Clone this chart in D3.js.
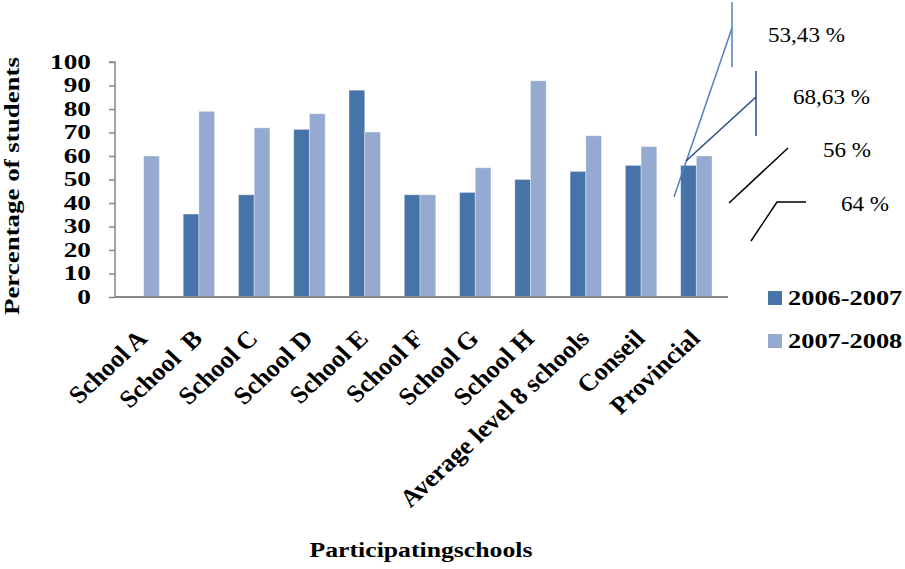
<!DOCTYPE html>
<html>
<head>
<meta charset="utf-8">
<script src="https://cdn.jsdelivr.net/npm/d3@7"></script>
<style>
  html, body { margin: 0; padding: 0; background: #fff; }
  svg { display: block; }
  text { font-family: "Liberation Serif", "Times New Roman", serif; fill: #000; }
</style>
</head>
<body>
<svg id="chart" width="905" height="569"></svg>
<script>
// ---- data ----
const categories = ["School A", "School  B", "School C", "School D", "School E", "School F",
                    "School G", "School H", "Average level 8 schools", "Conseil", "Provincial"];
const seriesNames = ["2006-2007", "2007-2008"];
const values2006 = [null, 35.3, 43.5, 71.3, 88, 43.5, 44.5, 50, 53.43, 56, 56];
const values2007 = [60, 79, 72, 78, 70.2, 43.5, 55, 92, 68.63, 64, 60];
const yTicks = [0, 10, 20, 30, 40, 50, 60, 70, 80, 90, 100];
const yTitle = "Percentage of students";
const xTitle = "Participatingschools";

// ---- styles / layout ----
const colors = { "2006-2007": "#4673A8", "2007-2008": "#95A9D1" };
const axisColor = "#868686";
const stretch = 1.17;            // horizontal widening of the lettering
const plot = { left: 116, right: 724, top: 62, bottom: 297 };

const svg = d3.select("#chart");

const x0 = d3.scaleBand().domain(categories).range([plot.left, plot.right]);
const groupW = 31.4;
const x1 = d3.scaleBand().domain(seriesNames)
  .range([(x0.bandwidth() - groupW) / 2, (x0.bandwidth() + groupW) / 2]);
const y = d3.scaleLinear().domain([0, 100]).range([plot.bottom, plot.top]);

const rows = categories.map((c, i) => ({
  cat: c,
  vals: [
    { s: seriesNames[0], v: values2006[i] },
    { s: seriesNames[1], v: values2007[i] }
  ]
}));

// bars
svg.append("g").selectAll("g").data(rows).join("g")
  .attr("transform", d => `translate(${x0(d.cat)},0)`)
  .selectAll("rect").data(d => d.vals.filter(e => e.v != null)).join("rect")
  .attr("x", d => x1(d.s))
  .attr("width", x1.bandwidth())
  .attr("y", d => y(d.v))
  .attr("height", d => y(0) - y(d.v))
  .attr("fill", d => colors[d.s])
  .attr("stroke", "rgba(255,255,255,0.35)")
  .attr("stroke-width", 1);

// y axis
const yAxis = d3.axisLeft(y).tickValues(yTicks).tickSize(6).tickFormat("");
const yg = svg.append("g").attr("transform", `translate(${plot.left - 1},0)`).call(yAxis);
yg.select(".domain").attr("stroke", axisColor).attr("stroke-width", 1.5).attr("d", `M-6,${plot.top}H0V${plot.bottom}`);
yg.selectAll(".tick line").attr("stroke", axisColor).attr("stroke-width", 1.5);

svg.append("g").selectAll("text").data(yTicks).join("text")
  .attr("transform", d => `translate(91,${y(d)}) scale(1.24,1)`)
  .attr("dy", "0.3em")
  .attr("text-anchor", "end")
  .attr("font-size", 22)
  .attr("font-weight", "bold")
  .text(d => d);

// x axis line
svg.append("line")
  .attr("x1", plot.left - 1).attr("x2", plot.right + 4)
  .attr("y1", y(0)).attr("y2", y(0))
  .attr("stroke", axisColor).attr("stroke-width", 2);

// category labels
svg.append("g").selectAll("text").data(categories).join("text")
  .attr("transform", d => `translate(${x0(d) + x0.bandwidth() / 2 + 5},${y(0) + 43}) scale(1.07,1) rotate(-45)`)
  .attr("text-anchor", "end")
  .attr("font-size", 24.5)
  .attr("font-weight", "bold")
  .style("white-space", "pre")
  .text(d => d);

// axis titles
svg.append("text")
  .attr("transform", `translate(19,186) rotate(-90)`)
  .attr("text-anchor", "middle")
  .attr("font-size", 20)
  .attr("font-weight", "bold")
  .attr("textLength", 258)
  .attr("lengthAdjust", "spacingAndGlyphs")
  .text(yTitle);

svg.append("text")
  .attr("transform", `translate(421,557) scale(${stretch},1)`)
  .attr("text-anchor", "middle")
  .attr("font-size", 22)
  .attr("font-weight", "bold")
  .text(xTitle);

// legend
const legend = svg.append("g").selectAll("g").data(seriesNames).join("g")
  .attr("transform", (d, i) => `translate(768,${291 + i * 43})`);
legend.append("rect").attr("width", 14).attr("height", 14).attr("fill", d => colors[d]);
legend.append("text")
  .attr("transform", `translate(20,14) scale(1.2,1)`)
  .attr("font-size", 22)
  .attr("font-weight", "bold")
  .text(d => d);

// value callouts for the Average and Conseil groups
const fmt = d3.formatLocale({ decimal: ",", thousands: " ", grouping: [3], currency: ["", ""] });
const pct = v => (Number.isInteger(v) ? String(v) : fmt.format(".2f")(v)) + " %";
const callouts = [
  { value: values2006[8], color: "#4F81BD", path: [[674, 197], [732, 28]], bar: [732, 2, 67], text: [768, 42] },
  { value: values2007[8], color: "#254C7F", path: [[686, 161], [756, 97]], bar: [756, 71, 136], text: [793, 104] },
  { value: values2006[9], color: "#000000", path: [[729, 203], [788, 148]], bar: null, text: [823, 157] },
  { value: values2007[9], color: "#000000", path: [[751, 241], [777, 202], [806, 202]], bar: null, text: [841, 211] }
];
const cg = svg.append("g");
callouts.forEach(c => {
  cg.append("path")
    .attr("d", d3.line()(c.path))
    .attr("fill", "none").attr("stroke", c.color).attr("stroke-width", 1.5);
  if (c.bar) {
    cg.append("line")
      .attr("x1", c.bar[0]).attr("x2", c.bar[0]).attr("y1", c.bar[1]).attr("y2", c.bar[2])
      .attr("stroke", c.color).attr("stroke-width", 1.5);
  }
  cg.append("text")
    .attr("transform", `translate(${c.text[0]},${c.text[1]}) scale(1.05,1)`)
    .attr("font-size", 22)
    .text(pct(c.value));
});
</script>
</body>
</html>
